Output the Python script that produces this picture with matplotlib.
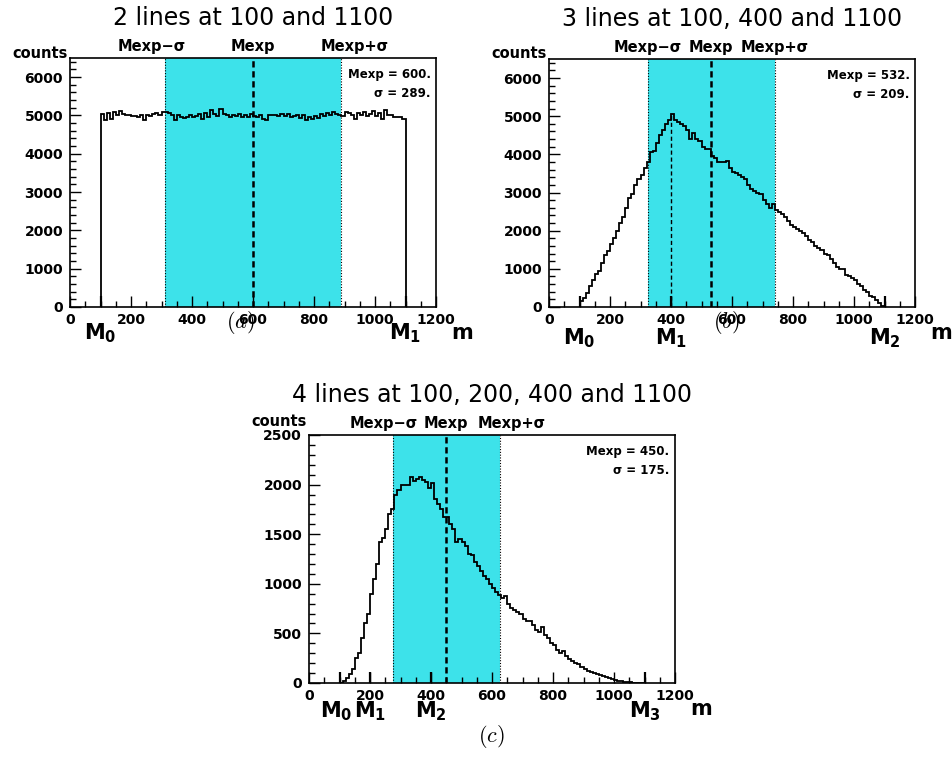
import numpy as np
import matplotlib
matplotlib.use('Agg')
import matplotlib.pyplot as plt
import matplotlib.transforms as mtransforms

plt.rcParams['font.family'] = ['DejaVu Sans']
plt.rcParams['mathtext.fontset'] = 'dejavusans'

# bin edges: 100 bins of width 10 between 100 and 1100
edges = np.arange(100, 1101, 10)

counts_a = [5050, 4880, 5060, 4900, 5080, 5000, 5120, 5050, 5010, 5020,
            4980, 4990, 4970, 5000, 4870, 5000, 4990, 5030, 5060, 5000,
            5090, 5090, 5060, 5000, 4880, 5000, 4970, 4940, 4960, 5000,
            4950, 4990, 5050, 4920, 5060, 4950, 5140, 5040, 4980, 5160,
            5040, 5010, 4960, 5020, 4980, 5050, 4960, 5000, 4950, 5030,
            4990, 4970, 5000, 4920, 4890, 5010, 5000, 5020, 4990, 5030,
            4980, 5040, 4960, 4980, 5010, 4940, 5000, 4880, 4950, 4900,
            4990, 4930, 5040, 4990, 5070, 5020, 5100, 5050, 5020, 4980,
            5080, 5070, 5000, 4900, 5060, 5000, 5080, 4990, 5050, 5110,
            4990, 5060, 4920, 5130, 5020, 5000, 4970, 4950, 4970, 4900]

counts_b = [150, 230, 380, 560, 700, 860, 950, 1150, 1350, 1480,
            1650, 1800, 2000, 2200, 2350, 2600, 2850, 2950, 3200, 3350,
            3450, 3650, 3800, 4050, 4100, 4300, 4500, 4650, 4800, 4900,
            5050, 4900, 4850, 4800, 4750, 4650, 4400, 4550, 4400, 4350,
            4200, 4150, 4150, 3950, 3900, 3800, 3800, 3800, 3820, 3650,
            3550, 3500, 3450, 3400, 3350, 3200, 3100, 3050, 3000, 2950,
            2800, 2700, 2600, 2700, 2550, 2500, 2450, 2350, 2250, 2150,
            2100, 2050, 2000, 1950, 1850, 1750, 1700, 1600, 1550, 1500,
            1400, 1350, 1250, 1150, 1050, 1000, 1000, 850, 800, 750,
            700, 600, 550, 450, 400, 300, 250, 180, 100, 30]

counts_c = [5, 20, 50, 90, 140, 250, 300, 450, 600, 700,
            900, 1050, 1200, 1420, 1460, 1550, 1700, 1750, 1900, 1950,
            2000, 2000, 2000, 2080, 2040, 2060, 2080, 2050, 2030, 1970,
            2020, 1850, 1800, 1750, 1670, 1670, 1600, 1550, 1420, 1450,
            1420, 1380, 1300, 1290, 1220, 1180, 1130, 1080, 1050, 1000,
            960, 920, 890, 860, 880, 800, 760, 740, 720, 700,
            650, 620, 620, 580, 530, 510, 560, 480, 450, 400,
            380, 330, 300, 320, 270, 240, 220, 200, 190, 160,
            140, 120, 110, 100, 90, 80, 70, 60, 50, 40,
            30, 25, 20, 15, 10, 8, 5, 3, 2, 0]

titles = ['2 lines at 100 and 1100',
          '3 lines at 100, 400 and 1100',
          '4 lines at 100, 200, 400 and 1100']
mexp_vals = [600, 532, 450]
sigma_vals = [289, 209, 175]
line_masses = [[100, 1100], [100, 400, 1100], [100, 200, 400, 1100]]
tags = ['a', 'b', 'c']

W, H = 952, 758
CYAN = '#3de2ea'
fig = plt.figure(figsize=(W / 100, H / 100), dpi=100)


def px_axes(l, t, r, b):
    return fig.add_axes([l / W, 1 - b / H, (r - l) / W, (b - t) / H])


def ftext(x, y, s, **kw):
    fig.text(x / W, 1 - y / H, s, **kw)


# layout per panel: axes box in px, y range, y ticks, offsets of the band labels
layout = [
    dict(box=(70, 58, 436, 307), ymax=6500, ymaj=1000, ymin=200,
         lab_dx=(-13, 0, 13), counts_dy=5, m_dy=26),
    dict(box=(549, 59, 915, 307), ymax=6500, ymaj=1000, ymin=200,
         lab_dx=(0, 0, 0), counts_dy=6, m_dy=31),
    dict(box=(309, 435, 675, 683), ymax=2500, ymaj=500, ymin=100,
         lab_dx=(-9, 0, 12), counts_dy=14, m_dy=28),
]
counts_all = [counts_a, counts_b, counts_c]

for i in range(3):
    lo = layout[i]
    l, t, r, b = lo['box']
    ax = px_axes(l, t, r, b)
    counts = counts_all[i]
    mexp, sig = mexp_vals[i], sigma_vals[i]
    ymax = lo['ymax']

    ax.axvspan(mexp - sig, mexp + sig, color=CYAN, lw=0, zorder=0)
    for xe in (mexp - sig, mexp + sig):
        ax.axvline(xe, color='k', ls=(0, (1, 1.5)), lw=0.8, zorder=1)
    ax.axvline(mexp, color='k', ls=(0, (2.5, 1.5)), lw=1.8, zorder=3)
    ax.stairs(counts, edges, color='k', lw=1.3, zorder=2)

    if i == 1:
        k = list(edges).index(400)
        ax.vlines(400, 0, counts[k], color='k', ls=(0, (3, 2)), lw=1.0, zorder=3)

    # tall ticks marking the line masses
    ax.vlines(line_masses[i], 0, ymax * 0.045, color='k', lw=1.6, zorder=4)

    ax.set_xlim(0, 1200)
    ax.set_ylim(0, ymax)
    ax.set_xticks(range(0, 1201, 200))
    ax.set_xticks(range(0, 1201, 50), minor=True)
    ax.set_yticks(range(0, ymax + 1, lo['ymaj']))
    ax.set_yticks(range(0, ymax + 1, lo['ymin']), minor=True)
    ax.tick_params(which='both', direction='in', top=False, right=False,
                   width=1.0, labelsize=10)
    ax.tick_params(which='major', length=8)
    ax.tick_params(which='minor', length=4)
    ax.tick_params(axis='x', pad=4)
    ax.tick_params(axis='y', pad=5)
    for lab in ax.get_xticklabels() + ax.get_yticklabels():
        lab.set_fontweight('bold')
    for s in ax.spines.values():
        s.set_linewidth(1.2)

    # stats box text
    ax.text(0.985, 0.96, f'Mexp = {mexp}.', transform=ax.transAxes, ha='right',
            va='top', fontsize=8.5, fontweight='bold')
    ax.text(0.985, 0.885, f'\u03c3 = {sig}.', transform=ax.transAxes, ha='right',
            va='top', fontsize=8.5, fontweight='bold')

    # band labels above the axes
    trans = mtransforms.blended_transform_factory(ax.transData, ax.transAxes)
    for xv, txt, dx in zip((mexp - sig, mexp, mexp + sig),
                           ('Mexp\u2212\u03c3', 'Mexp', 'Mexp+\u03c3'), lo['lab_dx']):
        ax.annotate(txt, xy=(xv, 1), xycoords=trans, xytext=(dx * 0.72, 8),
                    textcoords='offset points', ha='center', va='center',
                    fontsize=10.5, fontweight='bold')

    # title, counts, m, mass labels, panel tag (pixel positions)
    cx = (l + r) / 2
    ftext(cx, t - 40, titles[i], ha='center', va='center', fontsize=17)
    ftext(l - 2, t - lo['counts_dy'], 'counts', ha='right', va='center',
          fontsize=10.5, fontweight='bold')
    ftext(r + 26, b + 26, 'm', ha='center', va='center', fontsize=15,
          fontweight='bold')
    for n, mv in enumerate(line_masses[i]):
        xp = l + (r - l) * mv / 1200
        if i == 2 and n == 0:
            xp -= 3
        ftext(xp, b + lo['m_dy'], r'$\mathbf{M_%d}$' % n, ha='center',
              va='center', fontsize=15)
    tag_pos = [(240, 322), (726, 322), (491, 737)][i]
    ftext(tag_pos[0], tag_pos[1], r'$(%s)$' % tags[i], ha='center', va='center',
          fontsize=16, math_fontfamily='cm')

fig.savefig('out.png', dpi=100)
